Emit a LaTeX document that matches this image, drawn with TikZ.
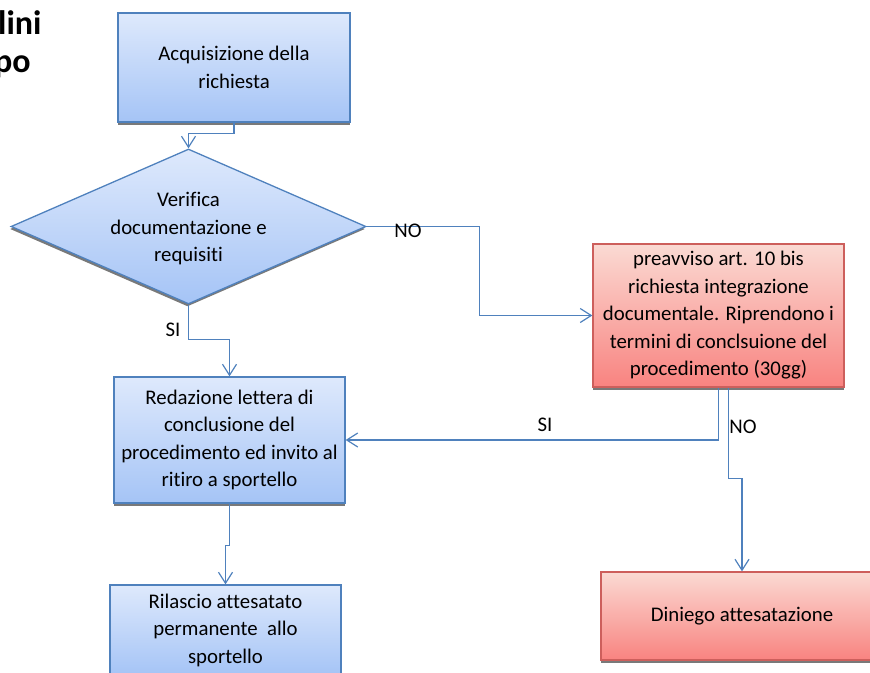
\documentclass[tikz,border=0pt]{standalone}
\usepackage{fontspec}
\setmainfont{Carlito}[Ligatures={NoCommon,NoRequired,NoContextual}]
\usetikzlibrary{shapes.geometric,arrows.meta,shadows}
\definecolor{lineblue}{HTML}{4F81BD}
\definecolor{boxtop}{HTML}{DEE9FC}
\definecolor{boxbot}{HTML}{A5C4F6}
\definecolor{redtop}{HTML}{FADAD3}
\definecolor{redbot}{HTML}{F98380}
\definecolor{redline}{HTML}{CD5F5C}
\definecolor{shadowc}{HTML}{6A6A6A}
\begin{document}
\begin{tikzpicture}[x=1pt,y=-1pt,
  shad/.style={drop shadow={shadow xshift=0pt, shadow yshift=-2.5pt, fill=shadowc, opacity=0.9}},
  bluebox/.style={rectangle, draw=lineblue, line width=1.3pt, top color=boxtop, bottom color=boxbot, shad,
    align=center, inner sep=0pt, font=\fontsize{20.8}{27.5}\selectfont, text=black},
  redbox/.style={rectangle, draw=redline, line width=1.3pt, top color=redtop, bottom color=redbot, shad,
    align=center, inner sep=0pt, font=\fontsize{20.8}{27.5}\selectfont, text=black},
  decision/.style={diamond, draw=lineblue, line width=1.3pt, top color=boxtop, bottom color=boxbot,
    drop shadow={shadow xshift=-1pt, shadow yshift=-2.5pt, fill=shadowc, opacity=0.9}, inner sep=0pt},
  txt/.style={align=center, inner sep=0pt, font=\fontsize{20.8}{27.5}\selectfont, text=black},
  lab/.style={inner sep=0pt, font=\fontsize{20.8}{24}\selectfont, text=black},
  ttl/.style={anchor=base west, inner sep=0pt, font=\bfseries\fontsize{34}{40}\selectfont, text=black},
  conn/.style={draw=lineblue, line width=1.2pt, -{Straight Barb[length=11pt,width=14pt,line width=1.2pt]}}
]
\useasboundingbox (0,0) rectangle (870,672);

% title (cut off at the left edge, as in the reference)
\node[ttl] (t1) at (-2,34) {lini};
\node[ttl] (t2) at (-6,72) {po};

% nodes
\node[bluebox, minimum width=232pt, minimum height=109pt] (acq) at (234,67.5) {Acquisizione della\\richiesta};
\node[decision, minimum width=355pt, minimum height=155pt] (dia) at (188.5,226.5) {};
\node[txt] (diat) at (188.5,229) {Verifica\\documentazione e\\requisiti};
\node[redbox, minimum width=251pt, minimum height=143pt] (prea) at (718.5,315.5)
  {preavviso art. 10 bis\\richiesta integrazione\\documentale. Riprendono i\\termini di conclsuione del\\procedimento (30gg)};
\node[bluebox, minimum width=231pt, minimum height=126pt] (redaz) at (229.5,440)
  {Redazione lettera di\\conclusione del\\procedimento ed invito al\\ritiro a sportello};
\node[bluebox, minimum width=231pt, minimum height=90pt] (rila) at (225.5,630)
  {Rilascio attesatato\\permanente\ \ allo\\sportello};
\node[redbox, minimum width=282pt, minimum height=88pt] (din) at (742,616) {Diniego attesatazione};

% connectors
\draw[conn] (acq.south) -- ++(0,11) -| (dia.north);
\draw[conn] (dia.south) -- ++(0,35) -| (redaz.north);
\draw[conn] (dia.east) -- ++(113,0) |- (prea.west);
\draw[conn] (prea.south) |- (redaz.east);
\draw[conn] ([xshift=10pt]prea.south) -- ++(0,91) -| (din.north);
\draw[conn] (redaz.south) -- ++(0,42) -| (rila.north);

% labels
\node[lab] (lsi1) at (173,330) {SI};
\node[lab] (lno1) at (408,231) {NO};
\node[lab] (lsi2) at (545,425) {SI};
\node[lab] (lno2) at (743,427) {NO};
\end{tikzpicture}
\end{document}
